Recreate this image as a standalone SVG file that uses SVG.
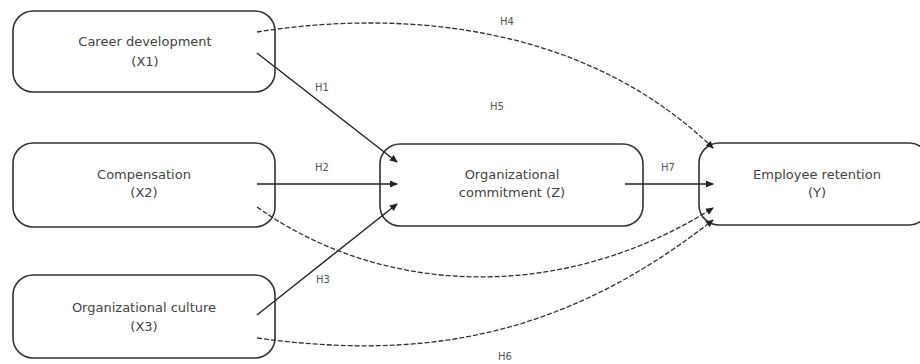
<svg xmlns="http://www.w3.org/2000/svg" width="920" height="364" viewBox="0 0 920 364">
<defs>
<marker id="ah" markerWidth="8" markerHeight="8" refX="7" refY="4" orient="auto" markerUnits="userSpaceOnUse">
<path d="M0,0.5 L8,4 L0,7.5 z" fill="#222"/>
</marker>
<style>
.box{fill:#fff;stroke:#333;stroke-width:1.6}
.t{font-family:"DejaVu Sans",Verdana,sans-serif;font-size:13px;fill:#444;text-anchor:middle}
.l{font-family:"DejaVu Sans",Verdana,sans-serif;font-size:10px;fill:#555;text-anchor:middle}
.s{fill:none;stroke:#222;stroke-width:1.4;marker-end:url(#ah)}
.d{fill:none;stroke:#333;stroke-width:1.3;stroke-dasharray:5,2;marker-end:url(#ah)}
</style>
</defs>
<rect width="920" height="364" fill="#fff"/>
<g id="x1"><rect class="box" x="13" y="11" width="262" height="81" rx="20"/><text class="t" x="145" y="46">Career development</text><text class="t" x="145" y="66">(X1)</text></g>
<g id="x2"><rect class="box" x="13" y="143" width="262" height="84" rx="20"/><text class="t" x="144" y="179">Compensation</text><text class="t" x="144" y="197">(X2)</text></g>
<g id="x3"><rect class="box" x="13" y="275" width="262" height="83" rx="20"/><text class="t" x="144" y="312">Organizational culture</text><text class="t" x="144" y="331">(X3)</text></g>
<g id="z"><rect class="box" x="380" y="144" width="263" height="82" rx="20"/><text class="t" x="512" y="179">Organizational</text><text class="t" x="512" y="197">commitment (Z)</text></g>
<g id="y"><rect class="box" x="699" y="143" width="230" height="82" rx="20"/><text class="t" x="817" y="179">Employee retention</text><text class="t" x="817" y="197">(Y)</text></g>
<g id="connectors">
<path class="s" d="M257,53 L397,162"/>
<path class="s" d="M257,184 L397,184"/>
<path class="s" d="M257,315 L397,204"/>
<path class="s" d="M625,184 L713,184"/>
<path class="d" d="M257,32 C370,14 570,10 713,148"/>
<path class="d" d="M257,207 C380,295 560,305 713,208"/>
<path class="d" d="M257,338 C420,360 560,340 713,220"/>
</g>
<g id="labels">
<text class="l" x="507" y="25">H4</text>
<text class="l" x="322" y="91">H1</text>
<text class="l" x="497" y="110">H5</text>
<text class="l" x="322" y="171">H2</text>
<text class="l" x="668" y="171">H7</text>
<text class="l" x="323" y="283">H3</text>
<text class="l" x="505" y="360">H6</text>
</g>
</svg>
